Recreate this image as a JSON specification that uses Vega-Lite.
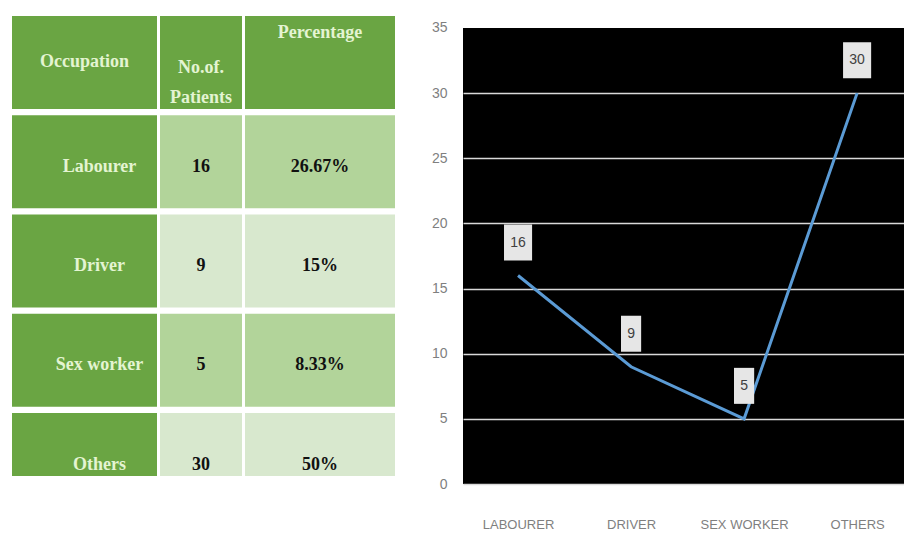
{
  "$schema": "https://vega.github.io/schema/vega-lite/v6.json",
  "padding": {"left": 12, "top": 15, "right": 0, "bottom": 0},
  "background": "white",
  "config": {"view": {"stroke": null}},
  "datasets": {
    "occ": [
      {"Occupation": "Labourer", "Patients": 16, "Percentage": "26.67%"},
      {"Occupation": "Driver", "Patients": 9, "Percentage": "15%"},
      {"Occupation": "Sex worker", "Patients": 5, "Percentage": "8.33%"},
      {"Occupation": "Others", "Patients": 30, "Percentage": "50%"}
    ]
  },
  "spacing": 28,
  "hconcat": [
    {
      "spacing": 3,
      "hconcat": [
        {
          "width": 145,
          "height": 460,
          "layer": [
            {
              "data": {"name": "occ"},
              "mark": {"type": "rect", "clip": true, "color": "#6aa543"},
              "encoding": {"y": {"field": "Occupation", "type": "nominal", "sort": null, "axis": null, "scale": {"domain": ["header", "Labourer", "Driver", "Sex worker", "Others"], "paddingInner": 0.063, "paddingOuter": 0, "range": [0, 490]}}}
            },
            {
              "data": {"values": [{"Occupation": "header", "label": "Occupation"}]},
              "mark": {"type": "rect", "color": "#6aa543"},
              "encoding": {"y": {"field": "Occupation", "type": "nominal", "sort": null, "axis": null}}
            },
            {
              "data": {"values": [{"Occupation": "header", "label": "Occupation"}]},
              "mark": {"type": "text", "font": "Liberation Serif", "fontWeight": "bold", "fontSize": 18, "color": "#e4f4d2"},
              "encoding": {"y": {"field": "Occupation", "type": "nominal", "sort": null, "axis": null}, "text": {"field": "label"}}
            },
            {
              "data": {"name": "occ"},
              "mark": {"type": "text", "font": "Liberation Serif", "fontWeight": "bold", "fontSize": 18, "color": "#e4f4d2", "dx": 15, "dy": 5},
              "encoding": {"y": {"field": "Occupation", "type": "nominal", "sort": null, "axis": null}, "text": {"field": "Occupation"}}
            }
          ]
        },
        {
          "width": 82,
          "height": 460,
          "layer": [
            {
              "data": {"name": "occ"},
              "mark": {"type": "rect", "clip": true},
              "encoding": {
                "y": {"field": "Occupation", "type": "nominal", "sort": null, "axis": null, "scale": {"domain": ["header", "Labourer", "Driver", "Sex worker", "Others"], "paddingInner": 0.063, "paddingOuter": 0, "range": [0, 490]}},
                "color": {"condition": {"test": "datum.Occupation === 'Labourer' || datum.Occupation === 'Sex worker'", "value": "#b2d49a"}, "value": "#d8e8ce"}
              }
            },
            {
              "data": {"values": [{"Occupation": "header", "label": "No.of. Patients"}]},
              "mark": {"type": "rect", "color": "#6aa543"},
              "encoding": {"y": {"field": "Occupation", "type": "nominal", "sort": null, "axis": null}}
            },
            {
              "data": {"values": [{"Occupation": "header", "label": "No.of. Patients"}]},
              "mark": {"type": "text", "font": "Liberation Serif", "fontWeight": "bold", "fontSize": 18, "color": "#e4f4d2", "lineBreak": " ", "lineHeight": 30, "dy": 6},
              "encoding": {"y": {"field": "Occupation", "type": "nominal", "sort": null, "axis": null}, "text": {"field": "label"}}
            },
            {
              "data": {"name": "occ"},
              "mark": {"type": "text", "font": "Liberation Serif", "fontWeight": "bold", "fontSize": 18, "color": "#111111", "dy": 5},
              "encoding": {"y": {"field": "Occupation", "type": "nominal", "sort": null, "axis": null}, "text": {"field": "Patients"}}
            }
          ]
        },
        {
          "width": 150,
          "height": 460,
          "layer": [
            {
              "data": {"name": "occ"},
              "mark": {"type": "rect", "clip": true},
              "encoding": {
                "y": {"field": "Occupation", "type": "nominal", "sort": null, "axis": null, "scale": {"domain": ["header", "Labourer", "Driver", "Sex worker", "Others"], "paddingInner": 0.063, "paddingOuter": 0, "range": [0, 490]}},
                "color": {"condition": {"test": "datum.Occupation === 'Labourer' || datum.Occupation === 'Sex worker'", "value": "#b2d49a"}, "value": "#d8e8ce"}
              }
            },
            {
              "data": {"values": [{"Occupation": "header", "label": "Percentage"}]},
              "mark": {"type": "rect", "color": "#6aa543"},
              "encoding": {"y": {"field": "Occupation", "type": "nominal", "sort": null, "axis": null}}
            },
            {
              "data": {"values": [{"Occupation": "header", "label": "Percentage"}]},
              "mark": {"type": "text", "font": "Liberation Serif", "fontWeight": "bold", "fontSize": 18, "color": "#e4f4d2", "dy": -29},
              "encoding": {"y": {"field": "Occupation", "type": "nominal", "sort": null, "axis": null}, "text": {"field": "label"}}
            },
            {
              "data": {"name": "occ"},
              "mark": {"type": "text", "font": "Liberation Serif", "fontWeight": "bold", "fontSize": 18, "color": "#111111", "dy": 5},
              "encoding": {"y": {"field": "Occupation", "type": "nominal", "sort": null, "axis": null}, "text": {"field": "Percentage"}}
            }
          ]
        }
      ]
    },
    {
      "width": 441,
      "height": 468,
      "view": {"fill": "black", "stroke": null},
      "data": {"name": "occ"},
      "layer": [
        {
          "mark": {"type": "rect", "color": "white"},
          "encoding": {
            "y": {"datum": 35, "type": "quantitative", "scale": {"domain": [0, 35.92], "nice": false},
              "axis": {"title": null, "grid": true, "values": [0, 5, 10, 15, 20, 25, 30, 35], "domain": false, "ticks": false, "tickSize": 0, "labelPadding": 16, "minExtent": 40, "maxExtent": 40, "gridColor": {"condition": {"test": "datum.value === 35", "value": "black"}, "value": "#d9d9d9"}, "gridWidth": 1.5, "gridOpacity": 1, "labelFont": "Liberation Sans", "labelFontSize": 14, "labelColor": "#7f7f7f"}},
            "y2": {"datum": 35.92}
          }
        },
        {
          "mark": {"type": "line", "color": "#5b9bd5", "strokeWidth": 3},
          "encoding": {
            "x": {
              "field": "Occupation", "type": "nominal", "sort": null,
              "scale": {"type": "point", "padding": 0.451, "align": 0.54},
              "axis": {"title": null, "labelAngle": 0, "labelExpr": "upper(datum.label)", "domain": false, "ticks": false, "tickSize": 0, "labelPadding": 34, "labelFont": "Liberation Sans", "labelFontSize": 13, "labelColor": "#7f7f7f", "grid": false}
            },
            "y": {"field": "Patients", "type": "quantitative"}
          }
        },
        {
          "mark": {"type": "point", "filled": true, "color": "#e6e6e6", "opacity": 1, "size": 1296, "yOffset": -33, "strokeWidth": 0},
          "encoding": {
            "x": {"field": "Occupation", "type": "nominal", "sort": null},
            "y": {"field": "Patients", "type": "quantitative"},
            "shape": {"condition": {"test": "datum.Patients >= 10", "value": "M-0.78,-1L0.78,-1L0.78,1L-0.78,1Z"}, "value": "M-0.56,-1L0.56,-1L0.56,1L-0.56,1Z"}
          }
        },
        {
          "mark": {"type": "text", "yOffset": -33, "font": "Liberation Sans", "fontSize": 14, "color": "#404040"},
          "encoding": {
            "x": {"field": "Occupation", "type": "nominal", "sort": null},
            "y": {"field": "Patients", "type": "quantitative"},
            "text": {"field": "Patients"}
          }
        }
      ]
    }
  ]
}
